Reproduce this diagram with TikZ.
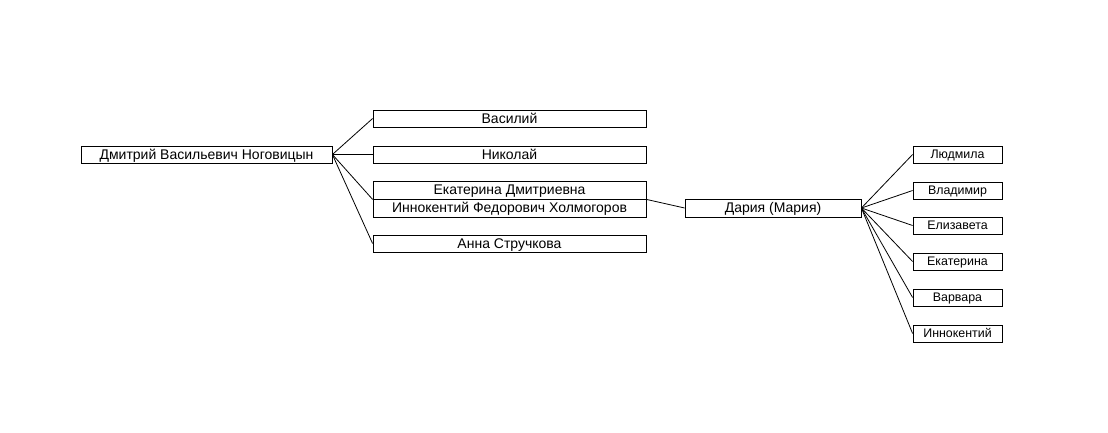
\documentclass[tikz,border=0pt]{standalone}
\usepackage{fontspec}
\setmainfont{Liberation Sans}
\begin{document}
\begin{tikzpicture}[x=1pt, y=-1pt, line width=0.8pt,
	person/.style={draw, inner sep=0pt, minimum height=17pt, text height=9.8pt, text depth=0pt, font=\fontsize{14}{15}\selectfont},
	kid/.style={person, minimum width=89pt, text height=8.9pt, font=\fontsize{12.4}{13}\selectfont}]
	\useasboundingbox (0,0) rectangle (1108,432);

	\node[person, minimum width=251pt] (Dm) at (206.5,154.5) {Дмитрий Васильевич Ноговицын};

	\node[person, minimum width=273pt] (Va) at (509.5,118.5) {Василий};
	\node[person, minimum width=273pt] (Ni) at (509.5,154.5) {Николай};
	\node[person, minimum width=273pt, minimum height=18pt] (Ek) at (509.5,190) {Екатерина Дмитриевна};
	\node[person, minimum width=273pt, minimum height=18pt] (In) at (509.5,208) {Иннокентий Федорович Холмогоров};
	\node[person, minimum width=273pt] (An) at (509.5,243.5) {Анна Стручкова};

	\node[person, minimum width=176pt, minimum height=18pt] (Da) at (773,208) {Дария (Мария)};

	\node[kid] (Lu) at (957.5,154.5) {Людмила};
	\node[kid] (Vl) at (957.5,190.5) {Владимир};
	\node[kid] (El) at (957.5,225.5) {Елизавета};
	\node[kid] (Ek2) at (957.5,261.5) {Екатерина};
	\node[kid] (Vr) at (957.5,297.5) {Варвара};
	\node[kid] (Ik) at (957.5,333.5) {Иннокентий};

	\draw (Dm.east) -- (Va.west);
	\draw (Dm.east) -- (Ni.west);
	\draw (Dm.east) -- (Ek.south west);
	\draw (Dm.east) -- (An.west);

	\draw (Ek.south east) -- (Da.west);

	\draw (Da.east) -- (Lu.west);
	\draw (Da.east) -- (Vl.west);
	\draw (Da.east) -- (El.west);
	\draw (Da.east) -- (Ek2.west);
	\draw (Da.east) -- (Vr.west);
	\draw (Da.east) -- (Ik.west);
\end{tikzpicture}
\end{document}
